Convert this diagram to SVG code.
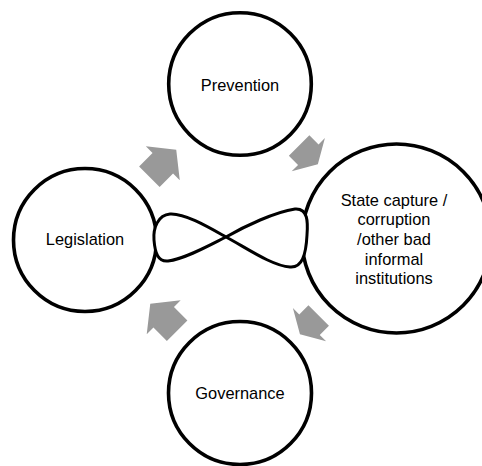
<svg xmlns="http://www.w3.org/2000/svg" xmlns:xlink="http://www.w3.org/1999/xlink" width="482" height="466" viewBox="0 0 482 466">
  <style>
    .node circle { fill: #ffffff; stroke: #000000; stroke-width: 3.6; }
    .label { font-family: "Liberation Sans", Arial, sans-serif; font-size: 16.4px; fill: #000000; text-anchor: middle; }
    .flow { fill: #999999; stroke: none; }
    .loop { fill: #ffffff; stroke: #000000; stroke-width: 3; stroke-linejoin: round; }
  </style>
  <defs>
    <!-- block arrows drawn pointing along +x, origin at the base of the head -->
    <polygon id="arrow-long" points="-19,-14.5 0,-14.5 0,-24 19,0 0,24 0,14.5 -19,14.5"/>
    <polygon id="arrow-short" points="-13,-14.5 0,-14.5 0,-23.5 13.5,0 0,23.5 0,14.5 -13,14.5"/>
  </defs>
  <rect width="482" height="466" fill="#ffffff"/>

  <g id="prevention" class="node">
    <circle cx="240" cy="84" r="71.3"/>
    <text class="label" x="240" y="90.5">Prevention</text>
  </g>

  <g id="legislation" class="node">
    <circle cx="85" cy="240" r="71.5"/>
    <text class="label" x="85" y="245">Legislation</text>
  </g>

  <g id="governance" class="node">
    <circle cx="240" cy="393" r="71.5"/>
    <text class="label" x="240" y="399">Governance</text>
  </g>

  <g id="state-capture" class="node">
    <circle cx="396.5" cy="238.5" r="94.5"/>
    <text class="label" x="394" y="205.7">State capture /</text>
    <text class="label" x="394" y="225.3">corruption</text>
    <text class="label" x="394" y="244.9">/other bad</text>
    <text class="label" x="394" y="264.5">informal</text>
    <text class="label" x="394" y="284.1">institutions</text>
  </g>

  <!-- figure-eight linking legislation and state capture -->
  <g id="loop">
    <path class="loop" d="M 226,237 C 245,226 275,212 295,209 C 308,208 308,222 307,235 C 306,255 302,268 290,267 C 272,266 245,247 226,237 C 210,228 185,213 170,214 C 158,215 153,228 154,240 C 155,253 158,262 168,261 C 185,259 210,245 226,237 Z"/>
  </g>

  <g id="connectors">
    <use class="flow" xlink:href="#arrow-long" transform="translate(162.8,163.3) rotate(-45)"/>
    <use class="flow" xlink:href="#arrow-short" transform="translate(308.3,154.7) rotate(45)"/>
    <use class="flow" xlink:href="#arrow-short" transform="translate(309.5,324.7) rotate(135)"/>
    <use class="flow" xlink:href="#arrow-long" transform="translate(163.7,317.3) rotate(-135)"/>
  </g>
</svg>
